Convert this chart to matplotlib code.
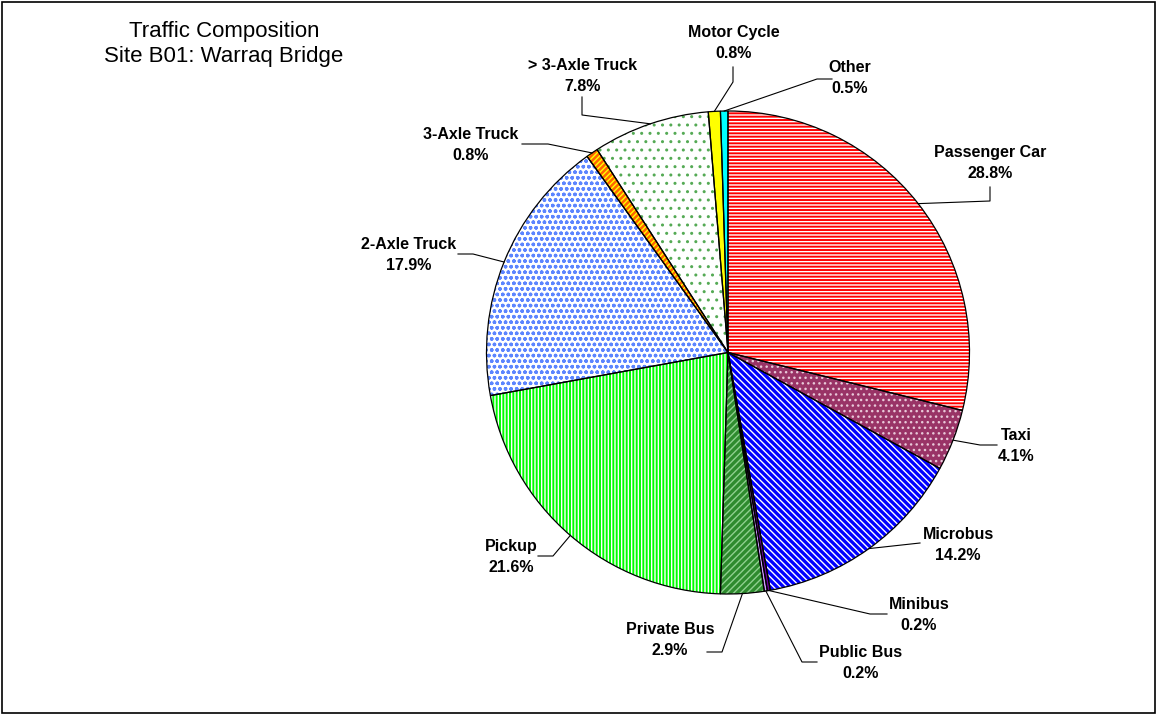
import numpy as np
import matplotlib
matplotlib.use("Agg")
import matplotlib.pyplot as plt
from matplotlib.patches import Rectangle

plt.rcParams['font.family'] = ['Liberation Sans', 'DejaVu Sans']
plt.rcParams['hatch.linewidth'] = 1.0

# data (clockwise from 12 o'clock)
categories = ['Passenger Car', 'Taxi', 'Microbus', 'Minibus', 'Public Bus', 'Private Bus',
              'Pickup', '2-Axle Truck', '3-Axle Truck', '> 3-Axle Truck', 'Motor Cycle', 'Other']
shares = [28.8, 4.1, 14.2, 0.2, 0.2, 2.9, 21.6, 17.9, 0.8, 7.8, 0.8, 0.5]

# styles
face_colors = ['#FF0000', '#993366', '#0000FF', '#660099', '#CC99FF', '#2E8B2E',
               '#00FF00', '#FFFFFF', '#FF6600', '#FFFFFF', '#FFFF00', '#00FFFF']
hatch_colors = ['#FFFFFF', '#E8C8D8', '#FFFFFF', '#FFFFFF', '#660099', '#8FD08F',
                '#FFFFFF', '#5C85FF', '#FFFF00', '#55AA55', '#FFFF00', '#00FFFF']
hatches = ['-----', '...', '\\\\\\\\\\', '', '', '/////',
           '|||||', 'ooo', '//////', '..', '', '']

W, H = 1157, 715
cx, cy, R = 728, 352.5, 241.5   # pie centre / radius in pixels (top-left origin)

# label layout: text centre and leader elbow points, pixels from top-left
label_pos = [(990, 163), (1016, 446), (958, 545), (919, 615), (861, 663), (670, 640),
             (511, 557), (409, 255), (471, 145), (583, 76), (734, 43), (850, 78)]
leader_pts = [
    [(990, 201), (990, 187)],
    [(980, 445), (997, 445)],
    [(920, 543)],
    [(870, 614), (887, 614)],
    [(802, 662), (817, 662)],
    [(722, 652), (707, 652)],
    [(553, 556), (538, 556)],
    [(473, 254), (458, 254)],
    [(548, 144), (522, 144)],
    [(582, 115), (582, 97)],
    [(733, 82), (733, 67)],
    [(817, 79), (832, 79)],
]


def px(x, y):
    return x, H - y


fig = plt.figure(figsize=(W / 100, H / 100), dpi=100)
ax = fig.add_axes([0, 0, 1, 1])

centre = px(cx, cy)
# filled + hatched wedges
wedges, _ = ax.pie(shares, startangle=90, counterclock=False, center=centre, radius=R,
                   frame=True, wedgeprops=dict(linewidth=0))
for w, fc, hc, h in zip(wedges, face_colors, hatch_colors, hatches):
    w.set_facecolor(fc)
    w.set_edgecolor(hc)
    w.set_hatch(h)
    w.set_linewidth(0)
# outlines
outl, _ = ax.pie(shares, startangle=90, counterclock=False, center=centre, radius=R,
                 frame=True, wedgeprops=dict(fill=False, edgecolor='black', linewidth=0.9))

# labels with leader lines
for w, name, val, (tx, ty), pts in zip(wedges, categories, shares, label_pos, leader_pts):
    mid = np.deg2rad((w.theta1 + w.theta2) / 2)
    ax_x = centre[0] + R * np.cos(mid)
    ax_y = centre[1] + R * np.sin(mid)
    xs = [ax_x] + [p[0] for p in pts]
    ys = [ax_y] + [H - p[1] for p in pts]
    ax.plot(xs, ys, color='black', lw=0.8)
    ax.text(*px(tx, ty), f"{name}\n{val:.1f}%", ha='center', va='center',
            fontsize=11.5, fontweight='bold', linespacing=1.45)

ax.text(*px(224, 44), "Traffic Composition\nSite B01: Warraq Bridge", ha='center', va='center',
        fontsize=16, linespacing=1.25)

ax.set_xlim(0, W)
ax.set_ylim(0, H)
ax.set_aspect('auto')
ax.axis('off')

fig.add_artist(Rectangle((2 / W, 2 / H), (W - 4) / W, (H - 4) / H, transform=fig.transFigure,
                         fill=False, edgecolor='black', lw=1.2))

fig.savefig('out.png', dpi=100)
